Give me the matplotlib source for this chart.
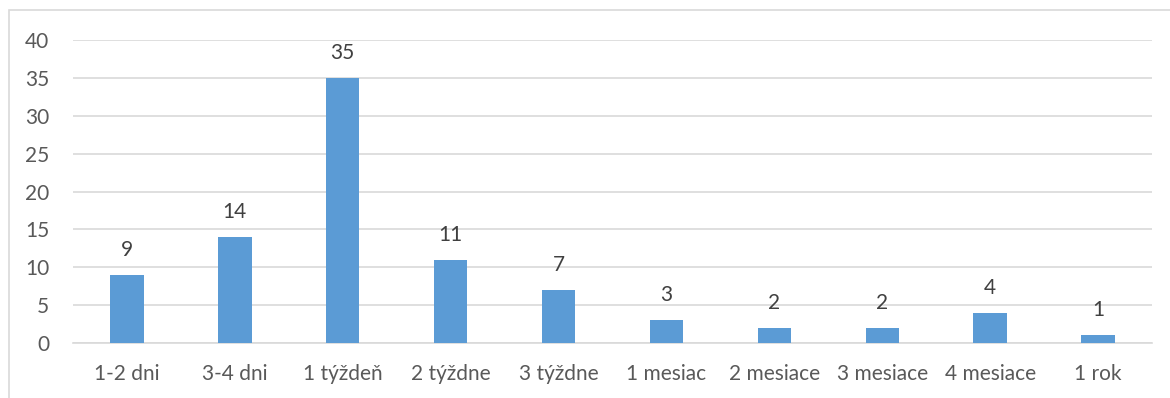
import numpy as np
import matplotlib
matplotlib.use('Agg')
import matplotlib.pyplot as plt
from matplotlib.patches import Rectangle

categories = ['1-2 dni', '3-4 dni', '1 týždeň', '2 týždne', '3 týždne',
              '1 mesiac', '2 mesiace', '3 mesiace', '4 mesiace', '1 rok']
values = [9, 14, 35, 11, 7, 3, 2, 2, 4, 1]
yticks = [0, 5, 10, 15, 20, 25, 30, 35, 40]

plt.rcParams['font.family'] = ['Lato', 'DejaVu Sans']
text_col = '#595959'
fs = 15

fig = plt.figure(figsize=(11.7, 3.98), dpi=100)
# outer chart border (left and top edges visible)
fig.patches.append(Rectangle((9 / 1170, -0.05), 1.2, 1 - 10 / 398 + 0.05,
                             transform=fig.transFigure, fill=False,
                             edgecolor='#D9D9D9', linewidth=1.2))

ax = fig.add_axes([73 / 1170, 1 - 343 / 398, (1152 - 73) / 1170, (343 - 40) / 398])
x = np.arange(len(categories))
ax.bar(x, values, width=0.31, color='#5B9BD5', zorder=3)
for xi, v in zip(x, values):
    ax.text(xi, v + 2.0, str(v), ha='center', va='bottom', fontsize=fs, color='#404040')

ax.set_xlim(-0.5, len(categories) - 0.5)
ax.set_ylim(0, 40)
ax.set_yticks(yticks)
ax.set_xticks(x)
ax.set_xticklabels(categories)
ax.yaxis.grid(True, color='#D9D9D9', linewidth=1.2, zorder=0)
ax.tick_params(axis='both', length=0, labelsize=fs, labelcolor=text_col)
ax.tick_params(axis='x', pad=15)
ax.tick_params(axis='y', pad=17)
for s in ['top', 'right', 'left']:
    ax.spines[s].set_visible(False)
ax.spines['bottom'].set_color('#D9D9D9')
ax.spines['bottom'].set_linewidth(1.2)

fig.savefig('out.png', dpi=100)
